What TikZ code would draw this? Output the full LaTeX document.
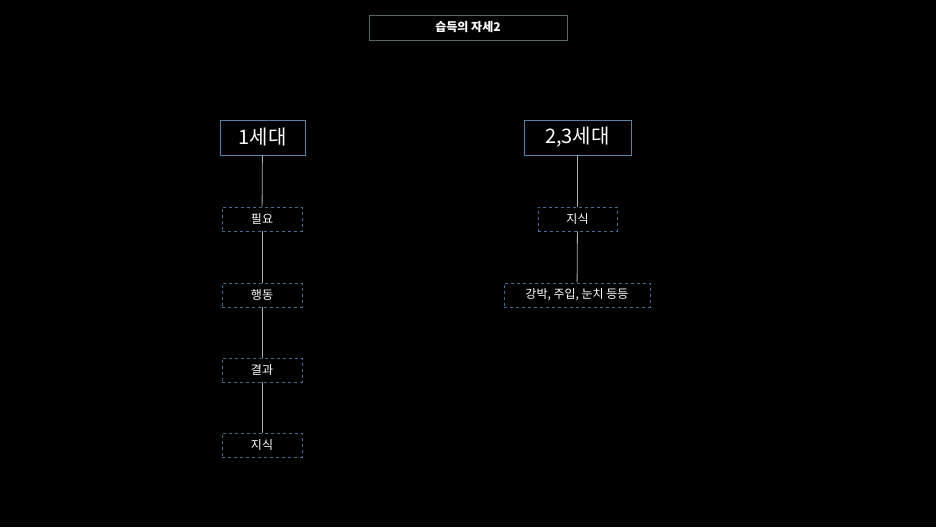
\documentclass[tikz,border=0pt]{standalone}
\usepackage{fontspec}
\newfontfamily\cjk{Noto Sans CJK KR}
\definecolor{tborder}{RGB}{90,105,95}
\definecolor{gborder}{RGB}{85,130,165}
\definecolor{sborder}{RGB}{70,105,150}
\definecolor{lcol}{RGB}{175,175,175}
\begin{document}
\begin{tikzpicture}[x=1pt,y=-1pt,
  title/.style={draw=tborder,line width=0.8pt,minimum width=198pt,minimum height=25pt,inner sep=0,text=white,font=\cjk\bfseries\fontsize{12}{14}\selectfont},
  gen/.style={draw=gborder,line width=0.8pt,minimum height=35pt,inner sep=0,text=white,font=\cjk\fontsize{20}{23}\selectfont},
  sbox/.style={draw=sborder,dashed,line width=0.6pt,minimum height=24pt,inner sep=0,text=white,font=\cjk\fontsize{12}{14}\selectfont},
  con/.style={draw=lcol,line width=0.8pt}]
\fill[black] (0,0) rectangle (936,527);
\useasboundingbox (0,0) rectangle (936,527);
\node[title] (t) at (468,27.5) {습득의 자세2};
\node[gen,minimum width=85pt] (g1) at (262.5,137.5) {1세대};
\node[gen,minimum width=107pt] (g2) at (577.5,137.5) {2,3세대};
\node[sbox,minimum width=80pt] (a1) at (262,219) {필요};
\node[sbox,minimum width=80pt] (a2) at (262,295) {행동};
\node[sbox,minimum width=80pt] (a3) at (262,370) {결과};
\node[sbox,minimum width=80pt] (a4) at (262,445) {지식};
\node[sbox,minimum width=79pt] (b1) at (577.5,219) {지식};
\node[sbox,minimum width=146pt] (b2) at (577,295) {강박, 주입, 눈치 등등};
\draw[con] (g1) -- (a1); \draw[con] (a1) -- (a2); \draw[con] (a2) -- (a3); \draw[con] (a3) -- (a4);
\draw[con] (g2) -- (b1); \draw[con] (b1) -- (b2);
\end{tikzpicture}
\end{document}
